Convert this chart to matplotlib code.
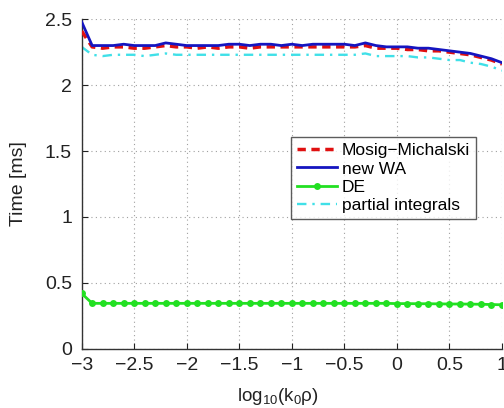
import numpy as np
import matplotlib
matplotlib.use("Agg")
import matplotlib.pyplot as plt

plt.rcParams['font.family'] = ['Liberation Sans', 'DejaVu Sans']
plt.rcParams['mathtext.fontset'] = 'custom'
plt.rcParams['mathtext.rm'] = 'Liberation Sans'
plt.rcParams['mathtext.it'] = 'Liberation Sans:italic'
plt.rcParams['mathtext.bf'] = 'Liberation Sans:bold'

# log10(k0*rho) sample points
log_k0rho = np.round(np.arange(-3.0, 1.0001, 0.1), 2)

# evaluation times in ms
new_wa = [2.48, 2.30, 2.30, 2.30, 2.31, 2.30, 2.30, 2.30, 2.32, 2.31,
          2.30, 2.30, 2.30, 2.30, 2.31, 2.31, 2.30, 2.31, 2.31, 2.30,
          2.31, 2.30, 2.31, 2.31, 2.31, 2.31, 2.30, 2.32, 2.30, 2.29,
          2.29, 2.29, 2.28, 2.28, 2.27, 2.26, 2.25, 2.24, 2.22, 2.20, 2.17]
mosig_michalski = [2.41, 2.29, 2.28, 2.29, 2.29, 2.28, 2.28, 2.29, 2.30, 2.29,
                   2.29, 2.28, 2.29, 2.28, 2.29, 2.29, 2.28, 2.29, 2.29, 2.29,
                   2.29, 2.29, 2.29, 2.29, 2.29, 2.29, 2.29, 2.30, 2.28, 2.28,
                   2.28, 2.27, 2.27, 2.26, 2.26, 2.25, 2.24, 2.23, 2.21, 2.19, 2.16]
de = [0.42, 0.345, 0.345, 0.345, 0.345, 0.345, 0.345, 0.345, 0.345, 0.345,
      0.345, 0.345, 0.345, 0.345, 0.345, 0.345, 0.345, 0.345, 0.345, 0.345,
      0.345, 0.345, 0.345, 0.345, 0.345, 0.345, 0.345, 0.345, 0.345, 0.345,
      0.343, 0.343, 0.342, 0.342, 0.341, 0.340, 0.340, 0.339, 0.338, 0.336, 0.334]
partial_integrals = [2.29, 2.23, 2.22, 2.23, 2.23, 2.23, 2.22, 2.23, 2.24, 2.23,
                     2.23, 2.23, 2.23, 2.23, 2.23, 2.23, 2.23, 2.23, 2.23, 2.23,
                     2.23, 2.23, 2.23, 2.23, 2.23, 2.23, 2.23, 2.24, 2.22, 2.22,
                     2.22, 2.22, 2.21, 2.21, 2.20, 2.19, 2.19, 2.17, 2.16, 2.14, 2.11]

xticks = [-3, -2.5, -2, -1.5, -1, -0.5, 0, 0.5, 1]
xticklabels = ['\u22123', '\u22122.5', '\u22122', '\u22121.5', '\u22121', '\u22120.5', '0', '0.5', '1']
yticks = [0, 0.5, 1, 1.5, 2, 2.5]
yticklabels = ['0', '0.5', '1', '1.5', '2', '2.5']

fig = plt.figure(figsize=(5.04, 4.08), dpi=100)
ax = fig.add_axes([0.162, 0.145, 0.834, 0.808])

ax.plot(log_k0rho, mosig_michalski, color='#e01010', linestyle=(0, (2.4, 1.6)),
        linewidth=2.5, label='Mosig\u2212Michalski', zorder=3)
ax.plot(log_k0rho, new_wa, color='#1515c0', linewidth=2.0, label='new WA', zorder=4)
ax.plot(log_k0rho, de, color='#22e022', linewidth=2.0, marker='o', markersize=5,
        markeredgewidth=0, label='DE', zorder=3)
ax.plot(log_k0rho, partial_integrals, color='#40e0e8', linestyle=(0, (4, 2.5, 1, 2.5)),
        linewidth=1.7, label='partial integrals', zorder=2)

ax.set_xlim(-3, 1)
ax.set_ylim(0, 2.5)
ax.set_xticks(xticks)
ax.set_xticklabels(xticklabels)
ax.set_yticks(yticks)
ax.set_yticklabels(yticklabels)
ax.tick_params(direction='in', length=4, labelsize=14, colors='#222222')
ax.tick_params(axis='x', pad=6)
ax.tick_params(axis='y', pad=7)

for side in ('top', 'right'):
    ax.spines[side].set_visible(False)
for side in ('left', 'bottom'):
    ax.spines[side].set_color('#333333')
    ax.spines[side].set_linewidth(1.0)

ax.grid(True, linestyle=(0, (1, 3)), color='#a0a0a0', linewidth=0.8)

ax.set_xlabel('log$_{\\mathrm{10}}$(k$_{\\mathrm{0}}$\u03c1)', fontsize=13.5, color='#222222')
ax.xaxis.set_label_coords(0.467, -0.112)
ax.set_ylabel('Time [ms]', fontsize=14, color='#222222')
ax.yaxis.set_label_coords(-0.13, 0.5)

leg = ax.legend(loc='upper left', bbox_to_anchor=(0.4976, 0.6424), fontsize=12.5,
                frameon=True, fancybox=False, edgecolor='#333333',
                handlelength=2.3, handletextpad=0.3, borderpad=0.35,
                labelspacing=0.18, borderaxespad=0)
leg.get_frame().set_linewidth(1.0)

fig.savefig('out.png', dpi=100)
